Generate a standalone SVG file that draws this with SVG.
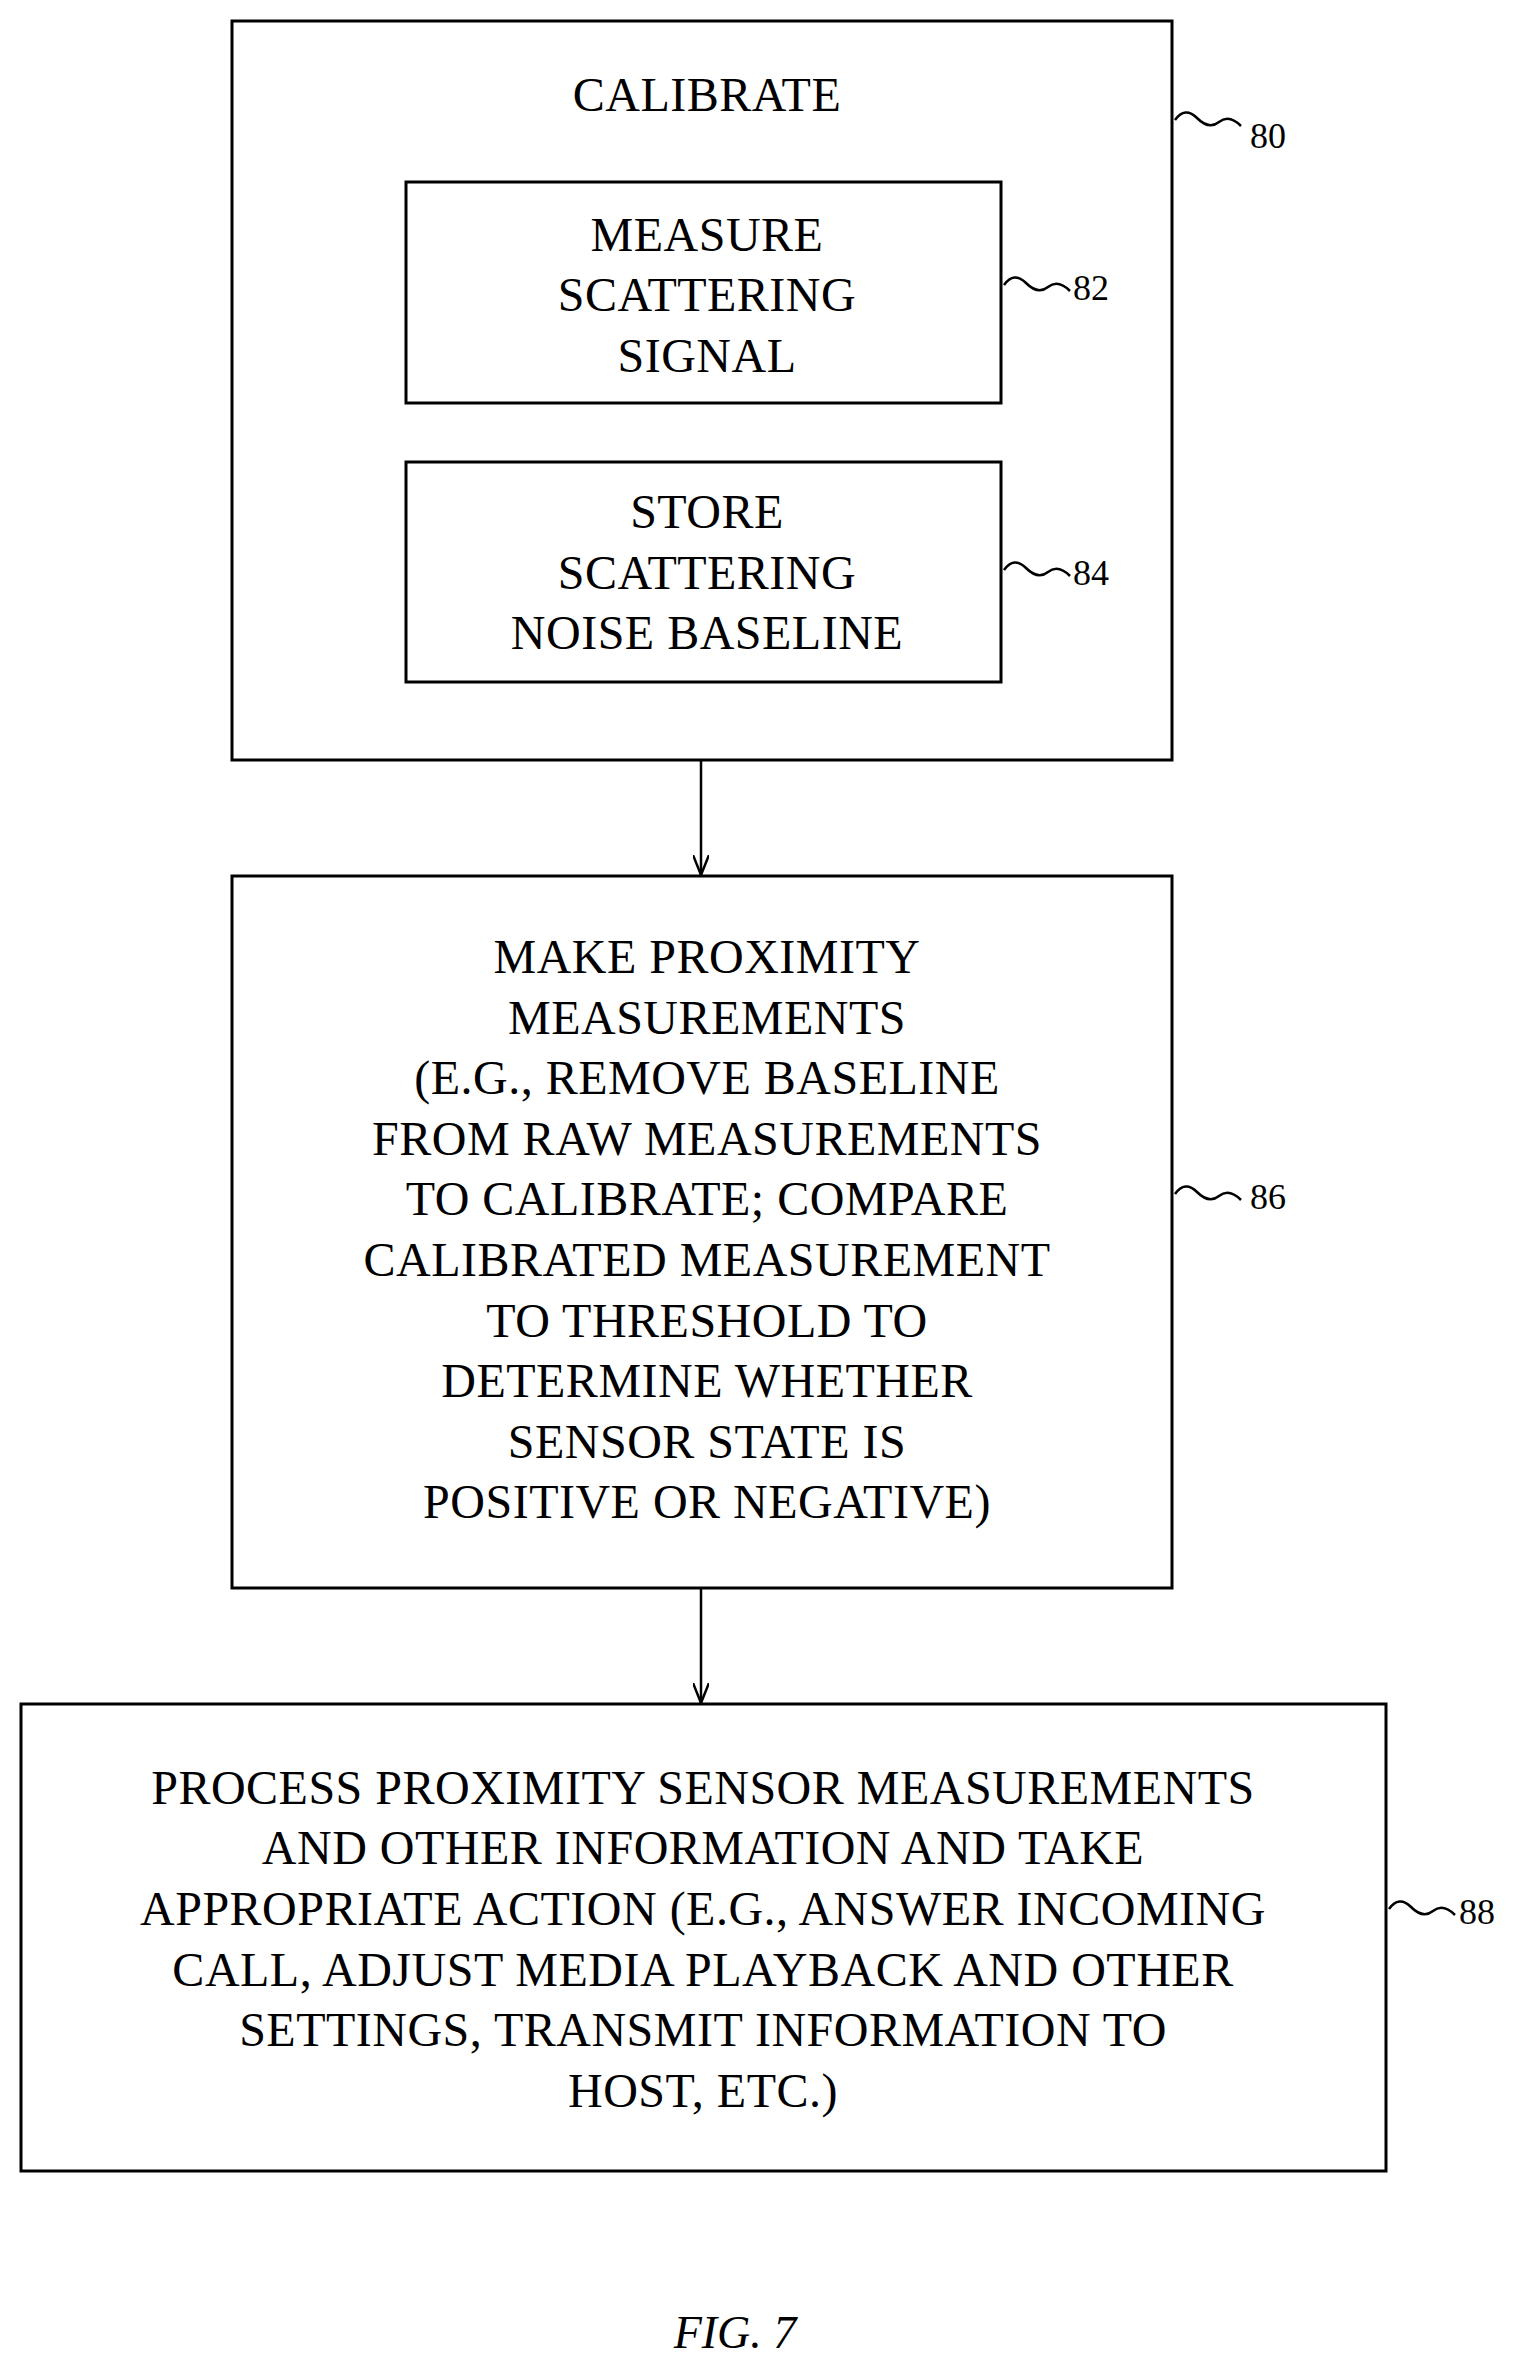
<svg xmlns="http://www.w3.org/2000/svg" width="1515" height="2360" viewBox="0 0 1515 2360">
<style>
.b{fill:none;stroke:#000;stroke-width:3}
.t{font-family:"Liberation Serif",serif;font-size:48px;text-anchor:middle;fill:#000;letter-spacing:0.5px}
.r{font-family:"Liberation Serif",serif;font-size:36px;fill:#000}
.c{fill:none;stroke:#000;stroke-width:2.5}
</style>
<defs><marker id="a" markerWidth="20" markerHeight="16" refX="20" refY="8" orient="auto" markerUnits="userSpaceOnUse" viewBox="0 0 20 16"><path d="M0,0 L20,8 L0,16" fill="none" stroke="#000" stroke-width="2.5"/></marker></defs>
<rect width="1515" height="2360" fill="#fff"/>
<g id="n80"><rect class="b" x="232" y="21" width="940" height="739"/><text class="t" x="707" y="111">CALIBRATE</text>
<path class="c" d="M1175,120 q10,-14 22,-2 t22,4 t22,4"/><text class="r" x="1250" y="148">80</text></g>
<g id="n82"><rect class="b" x="406" y="182" width="595" height="221"/>
<text class="t" x="707" y="251">MEASURE</text><text class="t" x="707" y="311">SCATTERING</text><text class="t" x="707" y="372">SIGNAL</text>
<path class="c" d="M1004,285 q10,-14 22,-2 t22,4 t22,4"/><text class="r" x="1073" y="300">82</text></g>
<g id="n84"><rect class="b" x="406" y="462" width="595" height="220"/>
<text class="t" x="707" y="528">STORE</text><text class="t" x="707" y="589">SCATTERING</text><text class="t" x="707" y="649">NOISE BASELINE</text>
<path class="c" d="M1004,570 q10,-14 22,-2 t22,4 t22,4"/><text class="r" x="1073" y="585">84</text></g>
<g id="n86"><rect class="b" x="232" y="876" width="940" height="712"/>
<g class="t"><text x="707" y="973">MAKE PROXIMITY</text><text x="707" y="1034">MEASUREMENTS</text><text x="707" y="1094">(E.G., REMOVE BASELINE</text><text x="707" y="1155">FROM RAW MEASUREMENTS</text><text x="707" y="1215">TO CALIBRATE; COMPARE</text><text x="707" y="1276">CALIBRATED MEASUREMENT</text><text x="707" y="1337">TO THRESHOLD TO</text><text x="707" y="1397">DETERMINE WHETHER</text><text x="707" y="1458">SENSOR STATE IS</text><text x="707" y="1518">POSITIVE OR NEGATIVE)</text></g>
<path class="c" d="M1175,1194 q10,-14 22,-2 t22,4 t22,4"/><text class="r" x="1250" y="1209">86</text></g>
<g id="n88"><rect class="b" x="21" y="1704" width="1365" height="467"/>
<g class="t"><text x="703" y="1804">PROCESS PROXIMITY SENSOR MEASUREMENTS</text><text x="703" y="1864">AND OTHER INFORMATION AND TAKE</text><text x="703" y="1925">APPROPRIATE ACTION (E.G., ANSWER INCOMING</text><text x="703" y="1986">CALL, ADJUST MEDIA PLAYBACK AND OTHER</text><text x="703" y="2046">SETTINGS, TRANSMIT INFORMATION TO</text><text x="703" y="2107">HOST, ETC.)</text></g>
<path class="c" d="M1389,1909 q10,-14 22,-2 t22,4 t22,4"/><text class="r" x="1459" y="1924">88</text></g>
<g id="connectors"><line class="c" x1="701" y1="760" x2="701" y2="875" marker-end="url(#a)"/><line class="c" x1="701" y1="1588" x2="701" y2="1703" marker-end="url(#a)"/></g>
<text x="735" y="2348" style="font-family:'Liberation Serif',serif;font-size:46px;font-style:italic;text-anchor:middle">FIG. 7</text>
</svg>
